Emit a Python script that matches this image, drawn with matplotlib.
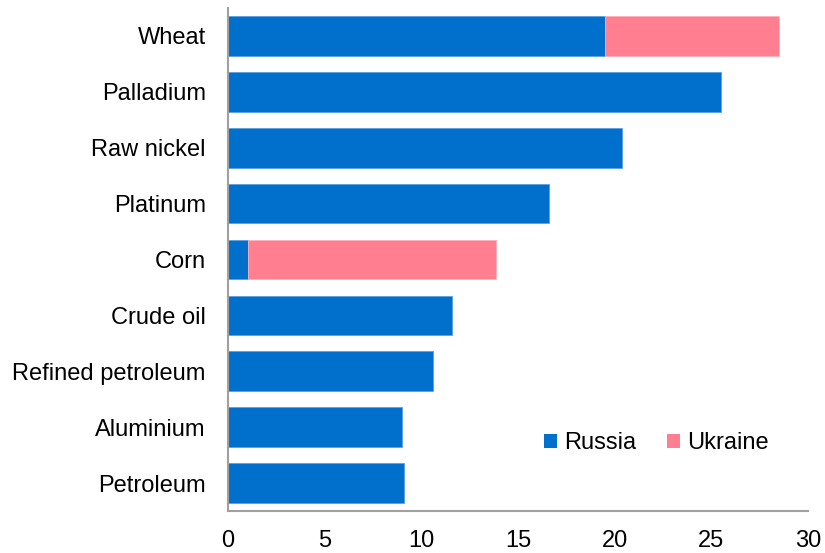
import matplotlib
matplotlib.use("Agg")
import matplotlib.pyplot as plt
from matplotlib.patches import Patch
import numpy as np

plt.rcParams['font.family'] = ['Liberation Sans', 'DejaVu Sans']

categories = ["Wheat", "Palladium", "Raw nickel", "Platinum", "Corn",
              "Crude oil", "Refined petroleum", "Aluminium", "Petroleum"]
russia = [19.5, 25.5, 20.4, 16.6, 1.05, 11.6, 10.6, 9.0, 9.1]
ukraine = [9.0, 0, 0, 0, 12.8, 0, 0, 0, 0]
xticks = [0, 5, 10, 15, 20, 25, 30]

c_ru = "#0070CC"
c_ua = "#FF7F91"

fig = plt.figure(figsize=(8.25, 5.53), dpi=100)
ax = fig.add_axes([228/825, 1-511/553, (808-228)/825, (511-8)/553])

y = np.arange(len(categories))
ax.barh(y, russia, height=0.71, color=c_ru, edgecolor="#5aa0e0", linewidth=0.6)
ua_lw = [0.6 if v > 0 else 0 for v in ukraine]
ax.barh(y, ukraine, left=russia, height=0.71, color=c_ua, edgecolor="#ffb0bb", linewidth=ua_lw)

ax.set_yticks(y)
ax.set_yticklabels(categories)
ax.set_ylim(len(categories) - 0.5, -0.5)
ax.set_xlim(0, 30)
ax.set_xticks(xticks)
ax.set_xticklabels([str(t) for t in xticks])

ax.tick_params(axis='both', length=0, labelsize=17)
ax.tick_params(axis='y', pad=16)
ax.tick_params(axis='x', pad=14)

for s in ["top", "right"]:
    ax.spines[s].set_visible(False)
for s in ["left", "bottom"]:
    ax.spines[s].set_color("#A0A0A0")
    ax.spines[s].set_linewidth(1.5)

handles = [Patch(facecolor=c_ru, label="Russia"), Patch(facecolor=c_ua, label="Ukraine")]
leg = fig.legend(handles=handles, loc="center", bbox_to_anchor=(656/825, 1-443/553),
                 ncol=2, frameon=False, fontsize=17, handlelength=0.55, handleheight=0.55,
                 handletextpad=0.3, columnspacing=1.3)

fig.savefig("out.png", dpi=100)
